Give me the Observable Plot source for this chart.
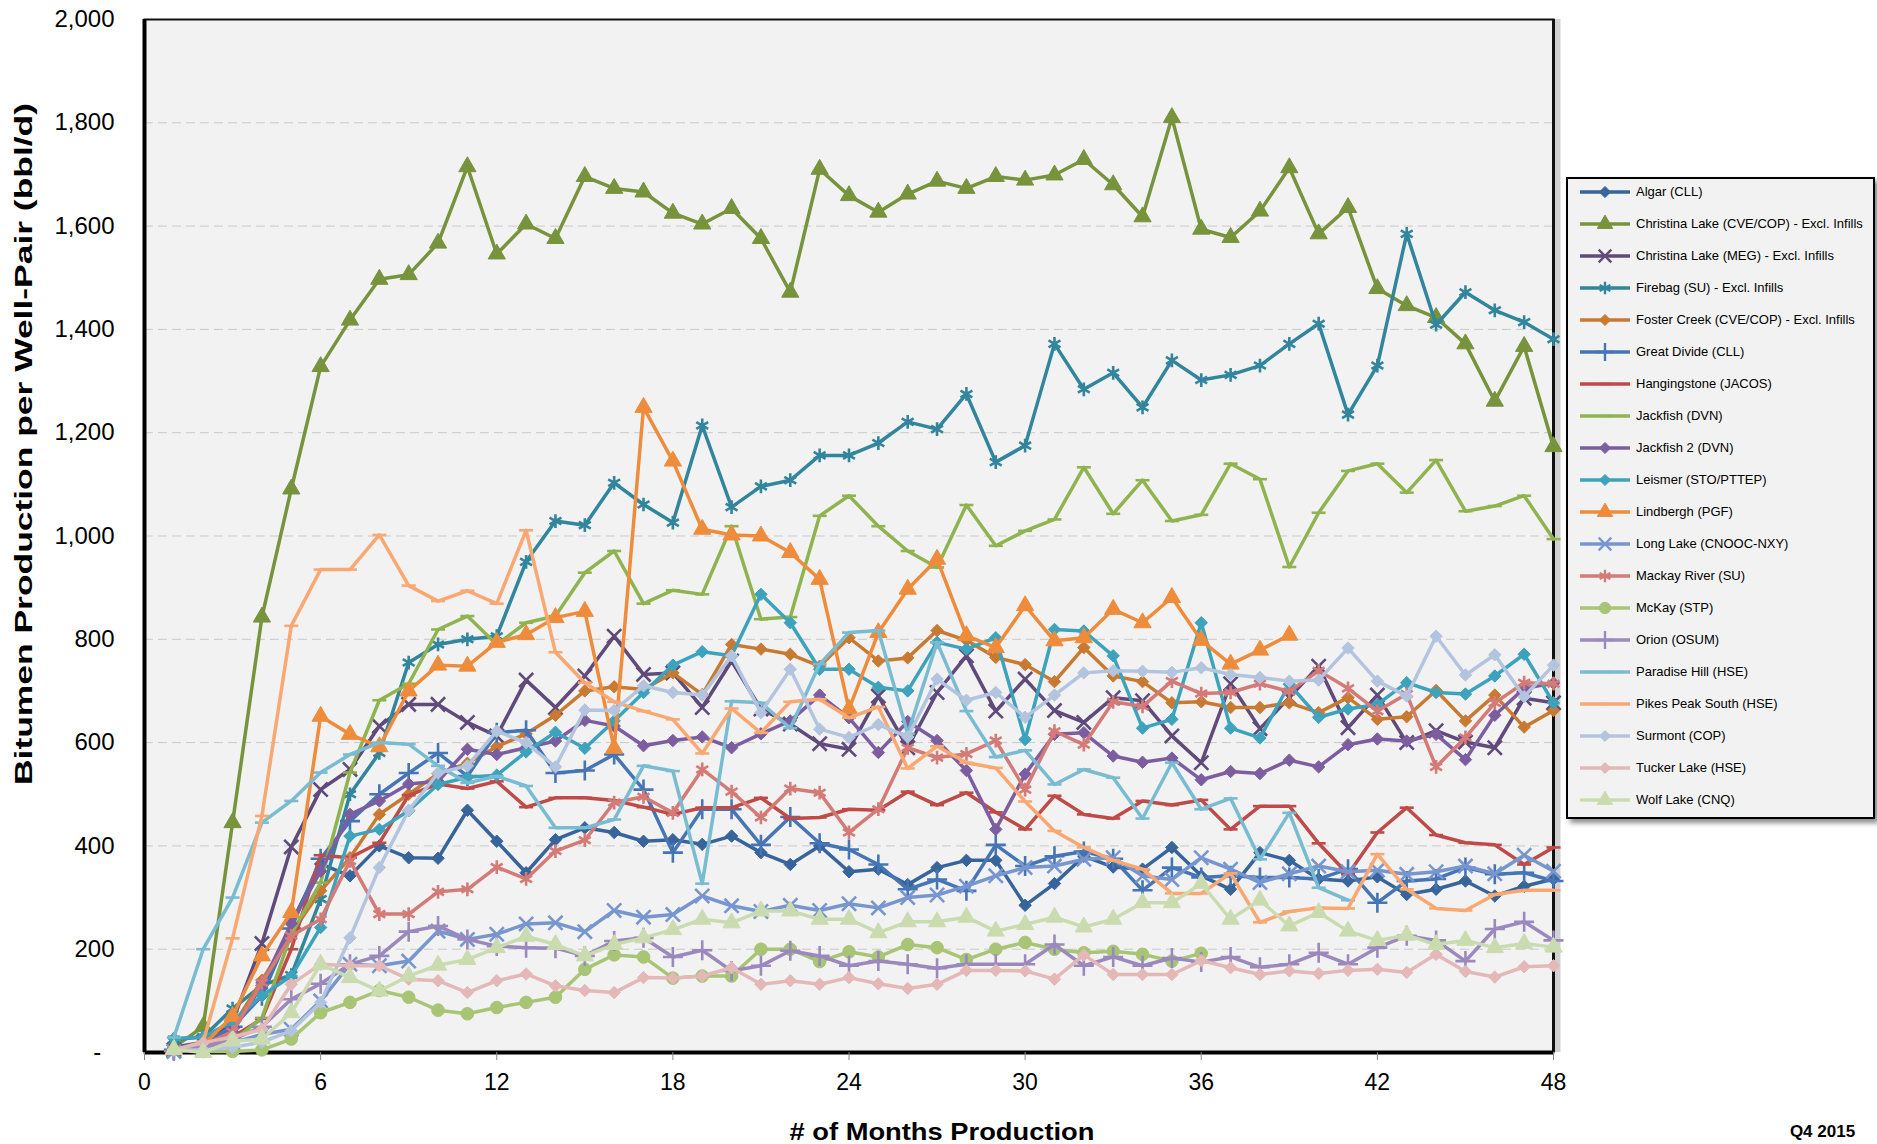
<!DOCTYPE html>
<html>
<head>
<meta charset="utf-8">
<script src="https://cdn.jsdelivr.net/npm/d3@7"></script>
<script src="https://cdn.jsdelivr.net/npm/@observablehq/plot@0.6"></script>
<style>
  html, body { margin: 0; padding: 0; background: #ffffff; }
  #wrap { position: relative; width: 1877px; height: 1144px; font-family: "Liberation Sans", Arial, sans-serif; }
  #legend { position: absolute; left: 1566px; top: 177px; width: 305px; height: 638px; background: #f2f2f2;
            border: 2px solid #000; box-shadow: 4px 4px 5px rgba(0,0,0,0.45); }
  .lg-row { position: absolute; left: 0; height: 32px; width: 300px; }
  .lg-row svg { position: absolute; left: 10px; top: 6px; }
  .lg-row span { position: absolute; left: 68px; top: 0; line-height: 32px; font-size: 13px; color: #000; white-space: nowrap; }
</style>
</head>
<body>
<div id="wrap"><div id="chart"></div><div id="legend"></div></div>
<script>
// ---------- data ----------
const months = d3.range(1, 49);
const xTicks = [0, 6, 12, 18, 24, 30, 36, 42, 48];
const yTicks = [0, 200, 400, 600, 800, 1000, 1200, 1400, 1600, 1800, 2000];

const seriesNames = [
  "Algar (CLL)",
  "Christina Lake (CVE/COP) - Excl. Infills",
  "Christina Lake (MEG) - Excl. Infills",
  "Firebag (SU) - Excl. Infills",
  "Foster Creek (CVE/COP) - Excl. Infills",
  "Great Divide (CLL)",
  "Hangingstone (JACOS)",
  "Jackfish (DVN)",
  "Jackfish 2 (DVN)",
  "Leismer (STO/PTTEP)",
  "Lindbergh (PGF)",
  "Long Lake (CNOOC-NXY)",
  "Mackay River (SU)",
  "McKay (STP)",
  "Orion (OSUM)",
  "Paradise Hill (HSE)",
  "Pikes Peak South (HSE)",
  "Surmont (COP)",
  "Tucker Lake (HSE)",
  "Wolf Lake (CNQ)"
];

const algar = [10,20,50,110,250,365,342,400,377,376,469,409,348,412,435,426,409,412,403,419,387,364,400,350,355,325,358,372,372,285,327,380,359,355,397,342,316,387,372,336,332,340,306,316,332,303,322,336];
const christinaCVE = [10,50,445,843,1091,1328,1418,1497,1506,1567,1715,1546,1604,1576,1696,1673,1666,1625,1604,1634,1576,1472,1710,1659,1627,1662,1687,1673,1696,1689,1699,1729,1680,1618,1810,1594,1578,1629,1713,1585,1636,1479,1446,1423,1372,1261,1367,1173];
const christinaMEG = [5,20,60,211,398,509,548,632,674,674,639,613,721,668,729,806,732,735,668,758,665,636,598,587,690,590,697,768,661,723,662,639,687,681,613,561,714,627,687,748,629,692,600,623,601,590,686,677];
const firebag = [25,30,85,130,150,297,500,580,755,790,800,806,950,1029,1021,1103,1061,1026,1214,1056,1096,1108,1156,1156,1180,1221,1207,1275,1143,1175,1372,1284,1316,1249,1340,1302,1312,1330,1372,1411,1235,1330,1585,1409,1472,1437,1414,1381];
const fosterCreek = [5,15,50,140,230,313,377,461,500,540,560,592,617,653,700,708,703,735,693,790,781,771,748,803,758,764,817,798,765,751,718,784,729,718,677,679,668,668,677,658,687,645,650,701,642,692,630,662];
const greatDivide = [5,15,50,110,240,375,448,500,541,580,535,619,624,541,546,577,509,387,471,471,402,456,405,393,364,316,335,313,402,361,380,389,375,314,358,339,342,339,339,336,355,290,332,336,358,345,348,332];
const hangingstone = [0,10,30,65,200,382,377,406,498,520,511,525,475,493,493,488,475,461,474,474,493,453,455,471,469,505,479,503,465,432,497,461,453,487,479,489,432,477,477,405,345,426,474,421,406,402,364,397];
const jackfish = [5,10,22,67,229,329,542,682,714,819,845,790,832,845,929,971,869,895,887,1019,839,843,1039,1078,1019,971,939,1060,981,1010,1032,1133,1043,1108,1029,1041,1140,1110,940,1045,1126,1140,1084,1147,1048,1058,1078,994];
const jackfish2 = [5,15,40,130,250,351,461,487,520,525,587,577,590,603,643,632,594,604,611,590,617,642,692,648,581,641,604,546,432,539,616,619,574,562,570,528,544,540,566,553,596,607,603,616,567,653,705,715];
const leismer = [27,30,60,110,148,242,419,432,468,519,533,537,582,620,589,642,697,750,776,768,887,832,742,742,707,700,794,781,803,606,819,816,768,628,645,832,628,609,713,649,665,674,716,697,694,729,771,677];
const lindbergh = [5,15,70,187,271,651,616,592,700,750,748,794,809,842,854,589,1249,1145,1013,1002,1000,968,916,665,813,897,955,807,784,865,797,803,858,832,881,798,752,779,808,null,null,null,null,null,null,null,null,null];
const longLake = [2,5,19,35,45,100,171,168,177,235,219,229,249,251,234,275,262,267,303,284,273,285,275,288,280,300,305,322,342,358,361,374,377,342,335,377,355,329,346,361,350,353,345,350,361,346,382,351];
const mackayRiver = [5,15,40,135,226,258,371,268,268,311,316,359,336,390,411,484,495,464,548,505,455,511,503,426,471,590,571,578,604,509,622,596,679,670,719,695,697,714,699,739,705,661,694,553,610,677,716,714];
const mcKay = [null,2,2,5,26,77,97,120,107,82,75,87,97,107,161,189,185,144,148,148,200,200,176,195,185,209,203,180,200,213,200,193,196,190,177,192,null,null,null,null,null,null,null,null,null,null,null,null];
const orion = [3,10,25,50,103,133,171,187,234,245,219,206,203,202,187,216,222,185,198,158,168,197,187,168,177,171,163,171,171,171,209,168,185,168,183,175,185,165,171,193,171,203,226,217,177,239,253,217];
const paradiseHill = [29,200,300,445,487,542,577,600,597,555,522,535,516,435,435,451,555,545,327,680,677,628,752,813,817,617,794,661,572,585,519,548,532,453,561,471,492,374,464,319,295,null,null,null,null,null,null,null];
const pikesPeak = [5,21,221,458,826,935,935,1002,904,874,894,869,1011,775,716,679,661,645,579,666,619,679,684,648,669,550,593,561,551,486,429,397,372,355,308,308,347,252,273,280,279,384,316,279,275,306,314,314];
const surmont = [5,5,10,20,42,97,222,358,469,541,555,622,600,553,663,662,710,697,692,768,658,742,626,610,635,611,723,682,697,649,692,735,739,738,736,745,732,726,719,721,783,719,690,806,731,770,689,750];
const tuckerLake = [5,19,30,45,132,171,168,168,142,139,116,139,152,129,120,116,145,144,148,164,132,139,132,145,133,124,132,159,159,158,142,189,151,151,151,178,164,151,158,153,159,161,155,190,157,146,166,168];
const wolfLake = [6,0,22,26,77,171,145,119,148,169,180,203,225,209,187,209,222,238,258,251,274,274,258,258,232,253,253,262,235,248,262,243,258,290,290,327,258,295,245,271,235,217,227,209,217,203,211,204];

const seriesValues = [algar, christinaCVE, christinaMEG, firebag, fosterCreek, greatDivide, hangingstone,
  jackfish, jackfish2, leismer, lindbergh, longLake, mackayRiver, mcKay, orion, paradiseHill, pikesPeak,
  surmont, tuckerLake, wolfLake];

// ---------- styles ----------
const colors = ["#37649a","#77933c","#604a7b","#31859c","#c97a32","#4575b4","#be4b48","#8fb44f","#7c5ea0",
  "#3da3bc","#ee8c3c","#7796cf","#d47a77","#a7c574","#9b88bd","#79bcd2","#f9a872","#b3c4df","#e3b8b7","#cadcaf"];
const markers = ["diamond","triangle","times","asterisk","diamond","plus","dash","dash","diamond",
  "diamond","triangle","times","asterisk","circle","plus","dash","dash","diamond","diamond","triangle"];

const dashSymbol = { draw(context, size) { const w = Math.sqrt(size / Math.PI); context.moveTo(-w, 0); context.lineTo(w, 0); } };
const symbolFor = {
  diamond: {plot: "diamond2", d3: d3.symbolDiamond2, r: 5.6, filled: true},
  triangle: {plot: "triangle", d3: d3.symbolTriangle, r: 6.4, filled: true},
  circle: {plot: "circle", d3: d3.symbolCircle, r: 6.3, filled: true},
  times: {plot: "times", d3: d3.symbolTimes, r: 6.5, filled: false},
  asterisk: {plot: "asterisk", d3: d3.symbolAsterisk, r: 6.5, filled: false},
  plus: {plot: "plus", d3: d3.symbolPlus, r: 6.5, filled: false},
  dash: {plot: dashSymbol, d3: dashSymbol, r: 7, filled: false}
};

// ---------- table ----------
const table = seriesNames.flatMap((name, i) =>
  seriesValues[i].map((v, j) => ({series: name, month: months[j], value: v})).filter(d => d.value != null));

// ---------- marks ----------
const marks = [
  Plot.ruleX([48], {dx: 4, stroke: "#000", strokeOpacity: 0.18, strokeWidth: 6}),
  Plot.frame({fill: "#f2f2f2"}),
  Plot.gridY(yTicks.filter(t => t > 0), {stroke: "#c9c9c9", strokeOpacity: 1, strokeWidth: 1, strokeDasharray: "9,5"}),
  Plot.frame({stroke: "#111", strokeWidth: 2}),
  Plot.ruleX([48], {stroke: "#111", strokeWidth: 3}),
  Plot.ruleX([0], {stroke: "#000", strokeWidth: 4}),
  Plot.ruleY([0], {stroke: "#000", strokeWidth: 4}),
  Plot.axisX(xTicks, {tickSize: 8, tickPadding: 13, fontSize: 23, stroke: "#888", fill: "#000", label: null}),
  Plot.axisY(yTicks, {tickSize: 0, tickPadding: 30, fontSize: 24, fill: "#000", label: null,
    fontFamily: "'Liberation Sans Narrow', 'Liberation Sans', Arial, sans-serif",
    tickFormat: d => d === 0 ? "-\u2007" : d3.format(",")(d)})
];
seriesNames.forEach((name, i) => {
  const rows = table.filter(d => d.series === name);
  const sym = symbolFor[markers[i]];
  marks.push(Plot.line(rows, {x: "month", y: "value", stroke: colors[i], strokeWidth: 3.5, strokeLinejoin: "round"}));
  marks.push(Plot.dot(rows, {x: "month", y: "value", symbol: sym.plot, r: sym.r,
    fill: sym.filled ? colors[i] : "none", stroke: colors[i], strokeWidth: sym.filled ? 1 : 2.6}));
});
marks.push(
  Plot.text(["Bitumen Production per Well-Pair (bbl/d)"], {text: d => d, frameAnchor: "left", dx: -120, dy: -92,
    rotate: -90, fontSize: 24, fontWeight: "bold", fill: "#000", textAnchor: "middle"}),
  Plot.text(["# of Months Production"], {text: d => d, frameAnchor: "bottom", dx: 93, dy: 87,
    fontSize: 24, fontWeight: "bold", fill: "#000", textAnchor: "middle"}),
  Plot.text(["Q4 2015"], {text: d => d, frameAnchor: "bottom-right", dx: 269, dy: 84,
    fontSize: 17, fontWeight: "bold", fill: "#000", textAnchor: "middle"})
);

const chart = Plot.plot({
  width: 1877,
  height: 1144,
  marginLeft: 144,
  marginRight: 324,
  marginTop: 19,
  marginBottom: 92,
  style: {fontFamily: "'Liberation Sans', Arial, sans-serif", color: "#000", background: "#fff", overflow: "visible"},
  x: {domain: [0, 48], axis: null},
  y: {domain: [0, 2000], axis: null},
  marks
});
document.getElementById("chart").appendChild(chart);

// stretch the titles to the lengths they take in the reference
chart.querySelectorAll("text").forEach(t => {
  const s = t.textContent;
  if (s === "Bitumen Production per Well-Pair (bbl/d)") { t.setAttribute("textLength", 682); t.setAttribute("lengthAdjust", "spacingAndGlyphs"); }
  if (s === "# of Months Production") { t.setAttribute("textLength", 305); t.setAttribute("lengthAdjust", "spacingAndGlyphs"); }
});

// ---------- legend ----------
const legend = document.getElementById("legend");
seriesNames.forEach((name, i) => {
  const row = document.createElement("div");
  row.className = "lg-row";
  row.style.top = (-3.5 + 32 * i) + "px";
  const sym = symbolFor[markers[i]];
  const svg = d3.create("svg").attr("width", 56).attr("height", 20);
  svg.append("line").attr("x1", 2).attr("x2", 52).attr("y1", 10).attr("y2", 10)
    .attr("stroke", colors[i]).attr("stroke-width", 3.5);
  svg.append("path").attr("transform", "translate(27,10)")
    .attr("d", d3.symbol(sym.d3, Math.PI * sym.r * sym.r * 0.8)())
    .attr("fill", sym.filled ? colors[i] : "none").attr("stroke", colors[i]).attr("stroke-width", sym.filled ? 1 : 2.4);
  row.appendChild(svg.node());
  const label = document.createElement("span");
  label.textContent = name;
  row.appendChild(label);
  legend.appendChild(row);
});
</script>
</body>
</html>
